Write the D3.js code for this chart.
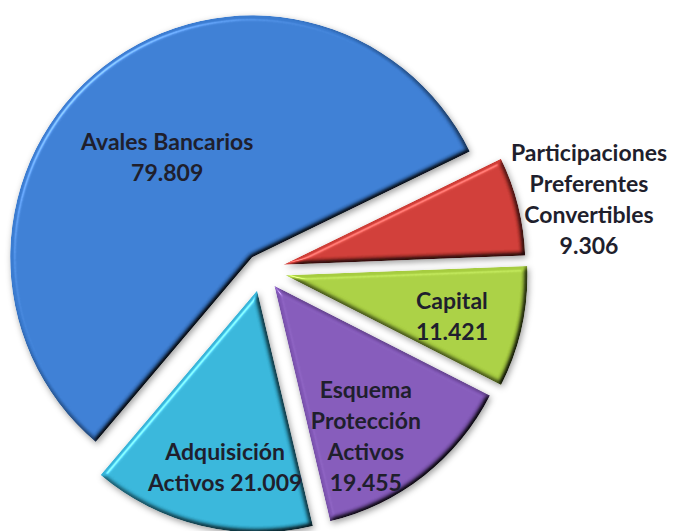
<!DOCTYPE html>
<html>
<head>
<meta charset="utf-8">
<script src="https://cdn.jsdelivr.net/npm/d3@7"></script>
<style>
  html, body { margin: 0; padding: 0; background: #ffffff; }
  svg { display: block; }
</style>
</head>
<body>
<svg id="chart" width="675" height="531"></svg>
<script>
// Rescate bancario: importes por instrumento (millones de euros)
const categories = [
  "Avales Bancarios",
  "Participaciones Preferentes Convertibles",
  "Capital",
  "Esquema Protección Activos",
  "Adquisición Activos"
];
const values = [79809, 9306, 11421, 19455, 21009];
// Label text per slice; {v} is replaced by the formatted value
const labelLines = [
  ["Avales Bancarios", "{v}"],
  ["Participaciones", "Preferentes", "Convertibles", "{v}"],
  ["Capital", "{v}"],
  ["Esquema", "Protección", "Activos", "{v}"],
  ["Adquisición", "Activos {v}"]
];
const colors = ["#3a7bd0", "#cc3b35", "#a6cc40", "#8157b6", "#35b2d6"];

// Layout
const width = 675, height = 531;
const center = [262, 270];
const radius = 242;
const startDeg = -139.7;
const explode = [16, 22, 24, 20, 21];            // slice pull-out, px
const labelPlace = [                              // radius fraction, angle nudge (deg)
  { r: 0.544, da: -2.4 },
  { r: 1.292, da: 1.9 },
  { r: 0.708, da: 1.2 },
  { r: 0.724, da: 6.7 },
  { r: 0.74,  da: -3.2 }
];
const lineHeight = 31;

const es = d3.formatLocale({ decimal: ",", thousands: ".", grouping: [3], currency: ["", " €"] });
const fmt = es.format(",d");

const svg = d3.select("#chart");
const defs = svg.append("defs");

// Soft drop shadow behind the pie
const shadow = defs.append("filter").attr("id", "shadow")
  .attr("x", "-10%").attr("y", "-10%").attr("width", "120%").attr("height", "120%");
shadow.append("feDropShadow")
  .attr("dx", 1.5).attr("dy", 2.5).attr("stdDeviation", 3)
  .attr("flood-color", "#000").attr("flood-opacity", 0.38);

// Bevel: soft rim shading with a faint highlight from the upper left
const bevel = defs.append("filter").attr("id", "bevel")
  .attr("x", "-5%").attr("y", "-5%").attr("width", "110%").attr("height", "110%")
  .attr("color-interpolation-filters", "sRGB");
bevel.append("feGaussianBlur").attr("in", "SourceAlpha").attr("stdDeviation", 2.5).attr("result", "b");
const diff = bevel.append("feDiffuseLighting").attr("in", "b").attr("surfaceScale", 4)
  .attr("diffuseConstant", 1.22).attr("lighting-color", "#fff").attr("result", "d");
diff.append("feDistantLight").attr("azimuth", 225).attr("elevation", 55);
bevel.append("feComposite").attr("in", "SourceGraphic").attr("in2", "d")
  .attr("operator", "arithmetic").attr("k1", 1).attr("result", "shaded");
const spec = bevel.append("feSpecularLighting").attr("in", "b").attr("surfaceScale", 4)
  .attr("specularConstant", 0.35).attr("specularExponent", 35)
  .attr("lighting-color", "#fff").attr("result", "s");
spec.append("feDistantLight").attr("azimuth", 225).attr("elevation", 45);
bevel.append("feComposite").attr("in", "s").attr("in2", "SourceAlpha")
  .attr("operator", "in").attr("result", "s2");
bevel.append("feComposite").attr("in", "shaded").attr("in2", "s2")
  .attr("operator", "arithmetic").attr("k2", 1).attr("k3", 1).attr("result", "lit");
bevel.append("feComposite").attr("in", "lit").attr("in2", "SourceAlpha").attr("operator", "in");

const toRad = Math.PI / 180;
const pie = d3.pie().sort(null).value(d => d)
  .startAngle(startDeg * toRad).endAngle(startDeg * toRad + 2 * Math.PI);
const arcs = pie(values);
const arc = d3.arc().innerRadius(0).outerRadius(radius);

const g = svg.append("g")
  .attr("transform", `translate(${center[0]},${center[1]})`)
  .attr("filter", "url(#shadow)");

function offset(a, dist) {
  const mid = (a.startAngle + a.endAngle) / 2;
  return [Math.sin(mid) * dist, -Math.cos(mid) * dist];
}

g.selectAll("path.slice")
  .data(arcs)
  .join("path")
  .attr("class", "slice")
  .attr("d", arc)
  .attr("fill", (d, i) => colors[i])
  .attr("filter", "url(#bevel)")
  .attr("transform", (d, i) => {
    const [x, y] = offset(d, explode[i]);
    return `translate(${x},${y})`;
  });

// Labels
const lg = svg.append("g").attr("transform", `translate(${center[0]},${center[1]})`);
arcs.forEach((a, i) => {
  const [ox, oy] = offset(a, explode[i]);
  const mid = (a.startAngle + a.endAngle) / 2 + labelPlace[i].da * toRad;
  const rr = radius * labelPlace[i].r;
  const lx = ox + Math.sin(mid) * rr;
  const ly = oy - Math.cos(mid) * rr;
  const lines = labelLines[i].map(s => s.replace("{v}", fmt(values[i])));
  const t = lg.append("text")
    .attr("text-anchor", "middle")
    .attr("font-family", "Lato, 'Open Sans', sans-serif")
    .attr("font-weight", "bold")
    .attr("font-size", 23)
    .attr("fill", "#1f1f2d");
  lines.forEach((s, k) => {
    t.append("tspan")
      .attr("x", lx)
      .attr("y", ly + (k - (lines.length - 1) / 2) * lineHeight)
      .attr("dominant-baseline", "central")
      .text(s);
  });
});
</script>
</body>
</html>
